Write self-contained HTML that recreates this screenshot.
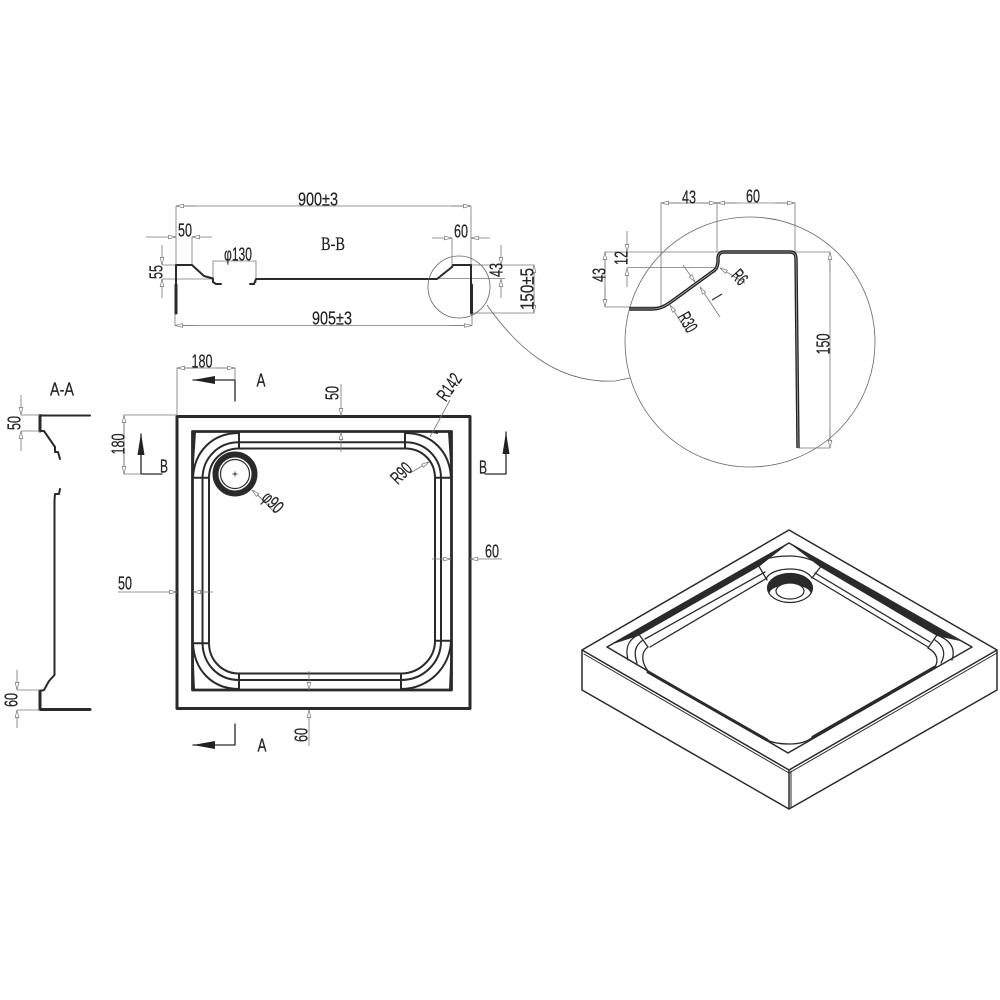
<!DOCTYPE html>
<html><head><meta charset="utf-8"><style>
html,body{margin:0;padding:0;background:#fff}
svg{display:block}
text{font-family:"Liberation Sans",sans-serif;font-size:18.5px;fill:#222;stroke:#222;stroke-width:.2;text-anchor:middle;dominant-baseline:central}
.d{stroke:#777;stroke-width:.8;fill:none}
.o{stroke:#2a2a2a;fill:none;stroke-linejoin:round;stroke-linecap:round}
.t3{stroke-width:3}.t2{stroke-width:2}.t1{stroke-width:1.3}
</style></head><body>
<svg width="1000" height="1000" viewBox="0 0 1000 1000" xmlns="http://www.w3.org/2000/svg">
<defs>
<marker id="a" markerUnits="userSpaceOnUse" markerWidth="9" markerHeight="6" refX="8" refY="3" orient="auto"><path d="M0.5 1.2L8 3L0.5 4.8Z" fill="#fff" stroke="#777" stroke-width=".7"/></marker>
</defs>

<!-- B-B section -->
<g class="d">
<path d="M176 265V206M471 265V206M176 206H471" />
<path d="M196 206H176" marker-end="url(#a)"/><path d="M451 206H471" marker-end="url(#a)"/>
<path d="M175 313V325.500M472 313V325.500M175 325.500H472"/>
<path d="M195 325.500H175" marker-end="url(#a)"/><path d="M452 325.500H472" marker-end="url(#a)"/>
<path d="M146 237H176" marker-end="url(#a)"/><path d="M212 237H192" marker-end="url(#a)"/><path d="M192 237V265"/>
<path d="M432 238H452" marker-end="url(#a)"/><path d="M490 238H471" marker-end="url(#a)"/><path d="M452 238V265"/>
<path d="M162 245V265" marker-end="url(#a)"/><path d="M162 298V279" marker-end="url(#a)"/><path d="M162 265H176M162 279H214M437 278.500H505"/>
<path d="M213 283V261H256V283M213 261H232"/>
<path d="M501 245V265" marker-end="url(#a)"/><path d="M501 298V279" marker-end="url(#a)"/>
<path d="M471 265H534V313H472"/>
<path d="M534 285V265" marker-end="url(#a)"/><path d="M534 293V313" marker-end="url(#a)"/>
</g>
<path class="o t2" d="M176 313V265H192L204 276L213 278.500V282L216 284H221"/>
<path class="o t3" d="M176 285V313M471.500 285V313"/>
<path class="o t2" d="M250 284H254L256 279H437L452 267L453 265H471V285"/>
<text x="318" y="199" textLength="40" lengthAdjust="spacingAndGlyphs">900±3</text>
<text x="333" y="245" textLength="24" lengthAdjust="spacingAndGlyphs" style="font-family:'Liberation Serif',serif">B-B</text>
<text x="185" y="230" textLength="14" lengthAdjust="spacingAndGlyphs">50</text>
<text x="461" y="231" textLength="14" lengthAdjust="spacingAndGlyphs">60</text>
<text x="238" y="254" textLength="28" lengthAdjust="spacingAndGlyphs">φ130</text>
<text x="332" y="318" textLength="40" lengthAdjust="spacingAndGlyphs">905±3</text>
<text transform="translate(156,272) rotate(-90)" textLength="14" lengthAdjust="spacingAndGlyphs">55</text>
<text transform="translate(496,270) rotate(-90)" textLength="14" lengthAdjust="spacingAndGlyphs">43</text>
<text transform="translate(527,289) rotate(-90)" textLength="42" lengthAdjust="spacingAndGlyphs">150±5</text>

<!-- link circles -->
<circle cx="459" cy="287" r="31" fill="none" stroke="#666" stroke-width=".8"/>
<circle cx="750" cy="342" r="125" fill="none" stroke="#666" stroke-width=".8"/>
<path d="M487 305C515 345 555 384 615 381L630 378" fill="none" stroke="#666" stroke-width=".8"/>

<!-- Detail -->
<g class="d">
<path d="M661 307V203H795V252M717 252V203"/>
<path d="M681 203H661" marker-end="url(#a)"/><path d="M697 203H717" marker-end="url(#a)"/>
<path d="M737 203H717" marker-end="url(#a)"/><path d="M775 203H795" marker-end="url(#a)"/>
<path d="M605 307V252H830V448H798M605 307H661"/>
<path d="M605 272V252" marker-end="url(#a)"/><path d="M605 287V307" marker-end="url(#a)"/>
<path d="M627 231V252" marker-end="url(#a)"/><path d="M627 287V268" marker-end="url(#a)"/><path d="M627 267.500H717"/>
<path d="M830 272V252" marker-end="url(#a)"/><path d="M830 428V448" marker-end="url(#a)"/>
<path d="M683 265L695 282" marker-end="url(#a)" /><path d="M720 317L700 287" marker-end="url(#a)"/>
<path d="M745 283L720 268" marker-end="url(#a)"/>
<path d="M688 333L670 305" marker-end="url(#a)"/>
</g>
<path d="M629 309H652C662 309 668 304 675 299L712 272C717 269 717 267 718 262V257C719 253 721 252 724 252H790C794 252 796 254 796 259L798 448" fill="none" stroke="#222" stroke-width="3.400"/>
<path d="M629 309H652C662 309 668 304 675 299L712 272C717 269 717 267 718 262V257C719 253 721 252 724 252H790C794 252 796 254 796 259L798 448" fill="none" stroke="#aaa" stroke-width=".8"/>
<text x="689" y="197" textLength="14" lengthAdjust="spacingAndGlyphs">43</text>
<text x="753" y="196" textLength="14" lengthAdjust="spacingAndGlyphs">60</text>
<text transform="translate(599,275) rotate(-90)" textLength="14" lengthAdjust="spacingAndGlyphs">43</text>
<text transform="translate(621,258) rotate(-90)" textLength="14" lengthAdjust="spacingAndGlyphs">12</text>
<text transform="translate(823,344) rotate(-90)" textLength="21" lengthAdjust="spacingAndGlyphs">150</text>
<text transform="translate(740,277) rotate(48)" textLength="14" lengthAdjust="spacingAndGlyphs">R6</text>
<text transform="translate(688,322) rotate(60)" textLength="20" lengthAdjust="spacingAndGlyphs">R30</text>
<path d="M712 300L722 294" stroke="#333" stroke-width="1.300"/>

<!-- A-A section -->
<path class="o t2" d="M90 415.500H40V431H44L55 447V452H58L60 459"/>
<path class="o t2" d="M60 489L59 494H55L54.500 500V675L49 681L44 690L40 691V709.500H90"/>
<path class="o t3" d="M40 691V709.500H90M40 415.500V431"/>
<text x="62" y="389" textLength="24" lengthAdjust="spacingAndGlyphs">A-A</text>
<g class="d">
<path d="M21 395V415" marker-end="url(#a)"/><path d="M21 451V431" marker-end="url(#a)"/><path d="M21 415H40M21 431H40"/>
<path d="M17 670V690" marker-end="url(#a)"/><path d="M17 728V710" marker-end="url(#a)"/><path d="M17 690H40M17 710H40"/>
</g>
<text transform="translate(14,423) rotate(-90)" textLength="14" lengthAdjust="spacingAndGlyphs">50</text>
<text transform="translate(11,700) rotate(-90)" textLength="14" lengthAdjust="spacingAndGlyphs">60</text>

<!-- Plan view -->
<rect x="177" y="416.500" width="293" height="292" fill="none" stroke="#2a2a2a" stroke-width="3" stroke-linejoin="round"/>
<rect x="192.500" y="431.500" width="259" height="258.500" fill="none" stroke="#2a2a2a" stroke-width="2.800" stroke-linejoin="round"/>
<g class="o t2">
<path d="M239 431.500V448.500H405V431.500M405 442.300H239"/>
<path d="M192.500 477.700H209V643.300H192.500M202.500 478V643"/>
<path d="M451.500 477.700H435V640.700H451.500M441 478V641"/>
<path d="M239 690V673.500H401V690M239 680H401"/>
<path d="M239 433C212 433 194 452 193 478"/>
<path d="M239 442.300C218 442.300 203 458 202.500 478"/>
<path d="M239 448.500C222 448.500 209 461 209 478"/>
<path d="M405 433C432 433 450 452 451 478"/>
<path d="M405 442.300C426 442.300 441 458 441 478"/>
<path d="M405 448.500C422 448.500 435 461 435 478"/>
<path d="M239 689C212 689 194 670 193 643"/>
<path d="M239 680C218 680 203 664 202.500 643"/>
<path d="M239 673.500C222 673.500 209 660 209 643"/>
<path d="M401 689C428 689 450 668 451 641"/>
<path d="M401 680C424 680 441 662 441 641"/>
<path d="M401 673.500C420 673.500 435 658 435 641"/>
</g>
<path d="M193 478L192 432H196Z" fill="#2a2a2a"/>
<path d="M451 478L452 432H448Z" fill="#2a2a2a"/>
<path d="M193 643L192 690H195Z" fill="#2a2a2a"/>
<path d="M451 641L452 690H449Z" fill="#2a2a2a"/>
<path d="M428 432H438V434Z" fill="#2a2a2a"/>
<circle cx="235" cy="474" r="19.500" fill="#fff" stroke="#2a2a2a" stroke-width="6"/>
<circle cx="235" cy="474" r="14.500" fill="none" stroke="#2a2a2a" stroke-width="1.200"/>
<path d="M232.500 474H237.500M235 471.500V476.500" stroke="#333" stroke-width=".9"/>

<!-- section arrows -->
<path class="o t1" d="M235 401V380H193M141 434V474H162M506 432V474H485M235 724V745H193"/>
<path d="M193 380L215 376V384Z" fill="#222"/>
<path d="M193 745L215 741V749Z" fill="#222"/>
<path d="M141 433L137.500 455H144.500Z" fill="#222"/>
<path d="M506 432L502.500 454H509.500Z" fill="#222"/>
<text x="261" y="380" textLength="9" lengthAdjust="spacingAndGlyphs">A</text>
<text x="262" y="745" textLength="9" lengthAdjust="spacingAndGlyphs">A</text>
<text x="164" y="466" textLength="8" lengthAdjust="spacingAndGlyphs">B</text>
<text x="483" y="467" textLength="8" lengthAdjust="spacingAndGlyphs">B</text>

<!-- plan dims -->
<g class="d">
<path d="M177 416V368H235V380"/>
<path d="M197 368H177" marker-end="url(#a)"/><path d="M215 368H235" marker-end="url(#a)"/>
<path d="M177 415H124V474H141"/>
<path d="M124 435V415" marker-end="url(#a)"/><path d="M124 454V474" marker-end="url(#a)"/>
<path d="M341 384V416" marker-end="url(#a)"/><path d="M341 452V432" marker-end="url(#a)"/>
<path d="M450 400L430 437" marker-end="none"/><path d="M410 473L429 462" marker-end="url(#a)"/>
<path d="M274 512L257 494" /> <path d="M265 502L252 490" marker-end="url(#a)"/>
<path d="M118 592H177" marker-end="url(#a)"/><path d="M213 592H193" marker-end="url(#a)"/>
<path d="M502 559H470" marker-end="url(#a)"/><path d="M432 559H451" marker-end="url(#a)"/>
<path d="M309 746V710" marker-end="url(#a)"/><path d="M309 671V690" marker-end="url(#a)"/>
</g>
<text x="202" y="361" textLength="21" lengthAdjust="spacingAndGlyphs">180</text>
<text transform="translate(118,444) rotate(-90)" textLength="21" lengthAdjust="spacingAndGlyphs">180</text>
<text transform="translate(332,393) rotate(-90)" textLength="14" lengthAdjust="spacingAndGlyphs">50</text>
<text transform="translate(449,387) rotate(-55)" textLength="29" lengthAdjust="spacingAndGlyphs">R142</text>
<text transform="translate(401,473) rotate(-45)" textLength="22" lengthAdjust="spacingAndGlyphs">R90</text>
<text transform="translate(273,502) rotate(45)" textLength="22" lengthAdjust="spacingAndGlyphs">φ90</text>
<text x="125" y="583" textLength="14" lengthAdjust="spacingAndGlyphs">50</text>
<text x="492" y="551" textLength="14" lengthAdjust="spacingAndGlyphs">60</text>
<text transform="translate(301,735) rotate(-90)" textLength="14" lengthAdjust="spacingAndGlyphs">60</text>

<!-- Isometric -->
<g class="o" style="stroke-width:1.500">
<path d="M582 650L789 530L997 650V690L789 809L582 690Z"/>
<path d="M582 650L789 770L997 650M789 770V809"/>
<path d="M607 647L789 543L972 647L788 753Z"/>
<path d="M791 771V808" stroke-width="1"/>
<path d="M584 654L789 773L997 653" stroke-width="1"/>
</g>
<path d="M613 644L789 543L760 566L638 636Z" fill="#2a2a2a"/>
<path d="M789 543L960 641L937 636L820 567Z" fill="#2a2a2a"/>
<g class="o" style="stroke-width:1.300">
<path d="M638 633L648 647M822 565L812 578M757 563L767 580M937 635L928 648"/>
<path d="M645 639L765 572M650 647L767 578"/>
<path d="M815 573L930 642M813 578L928 647"/>
<path d="M638 635C628 640 625 648 628 660"/>
<path d="M643 640C634 646 634 654 637 663"/>
<path d="M648 647C641 652 641 662 648 671"/>
<path d="M937 635C950 640 956 648 952 660"/>
<path d="M935 640C944 646 946 654 941 663"/>
<path d="M928 648C937 653 939 660 935 667"/>
<path d="M767 577C772 571 782 569 790 569C800 569 808 572 812 578"/>
<path d="M757 563C765 558 778 556 790 556C803 556 813 560 822 565"/>
<path d="M767 740C775 744 785 744 790 744C800 744 807 742 813 737"/>
</g>
<path class="o" style="stroke-width:3" d="M648 672L767 740M813 737L935 667"/>
<ellipse cx="790" cy="588" rx="22.500" ry="14.500" fill="#2a2a2a"/>
<ellipse cx="790" cy="593.500" rx="20.500" ry="8.500" fill="#fff"/>
<ellipse cx="790" cy="591" rx="14" ry="8" fill="#fff" stroke="#2a2a2a" stroke-width="1.200"/>
<ellipse cx="790" cy="588" rx="22.500" ry="14.500" fill="none" stroke="#2a2a2a" stroke-width="1.200"/>
</svg>
</body></html>
